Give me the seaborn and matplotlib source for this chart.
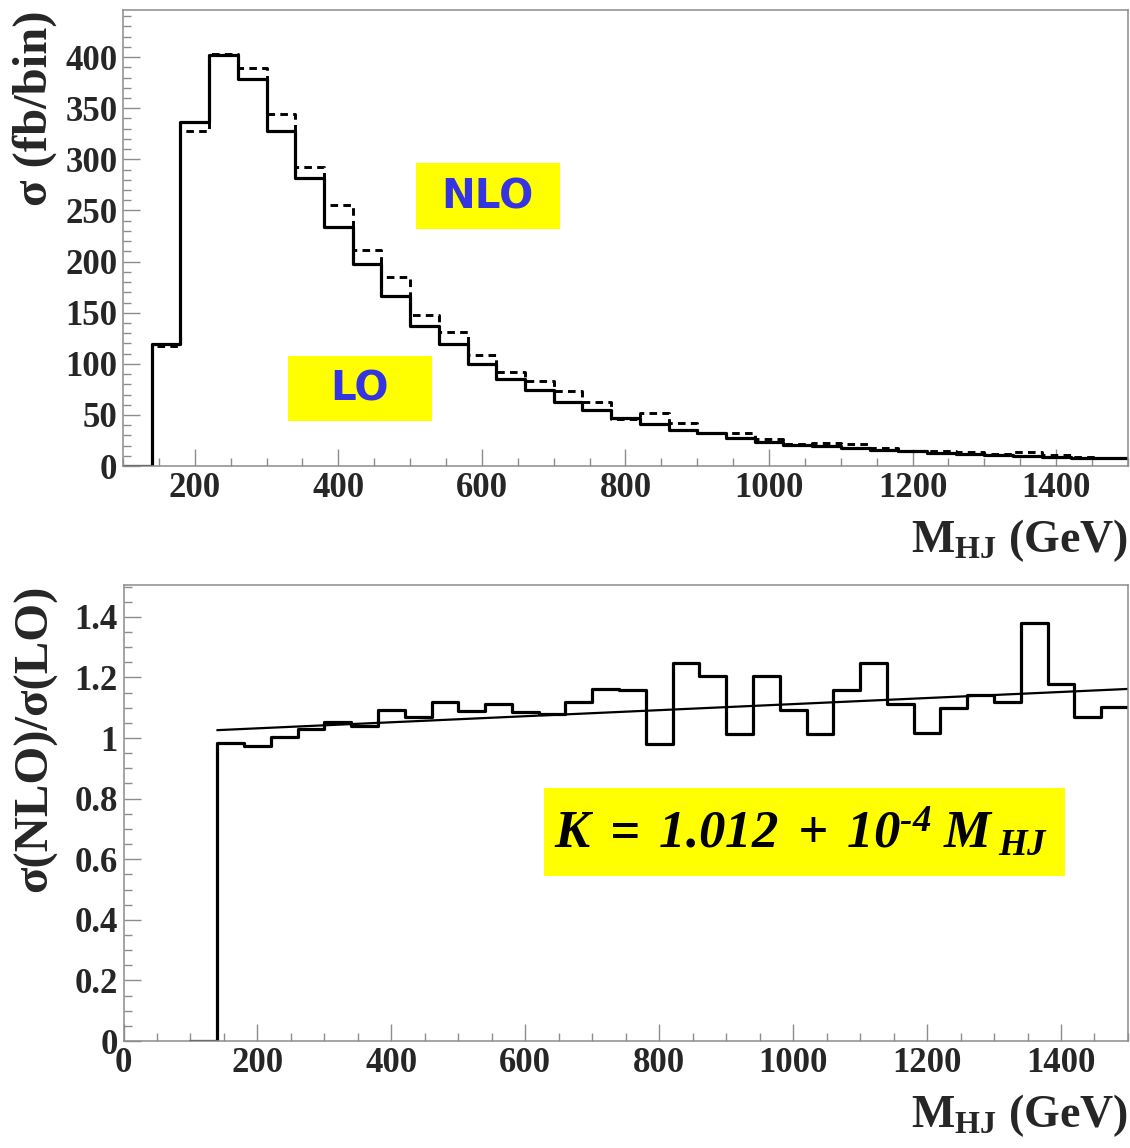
import numpy as np
import pandas as pd
import matplotlib
matplotlib.use("Agg")
import matplotlib.pyplot as plt
import seaborn as sns
from matplotlib.patches import Rectangle
from matplotlib.ticker import MultipleLocator, FuncFormatter

# ---------------- data ----------------
# bin edges in M_HJ (GeV): an empty bin 100-140, then 40 GeV bins 140..1500
bin_edges = [100.0] + [float(v) for v in range(140, 1501, 40)]

lo_xsec = [0, 119, 337, 402, 379, 328, 282, 234, 198, 166, 137, 119, 100, 85,
           74, 63, 55, 47, 41.5, 35, 32, 27, 24, 21, 19.5, 17.5, 16, 14.5, 13,
           12, 11, 10, 9, 8, 7.5]
nlo_xsec = [0, 117, 328, 403, 389, 344, 293, 255, 211, 185, 148, 131, 109, 92,
            83, 73, 63, 46, 52, 42, 32.5, 32.5, 26.3, 21.3, 22.6, 21.9, 17.8,
            14.7, 14.3, 13.7, 12.3, 13.8, 10.6, 8.5, 8.3]
k_ratio = [0, 0.985, 0.975, 1.004, 1.029, 1.052, 1.040, 1.093, 1.071, 1.120,
           1.089, 1.111, 1.087, 1.079, 1.120, 1.161, 1.157, 0.979, 1.249, 1.204,
           1.013, 1.204, 1.094, 1.013, 1.160, 1.249, 1.112, 1.015, 1.098, 1.142,
           1.120, 1.381, 1.177, 1.068, 1.103]

# fit K = k0 + k1 * M_HJ over the filled range
fit_k0 = 1.012
fit_k1 = 1e-4
fit_range = [140, 1500]

top_yticks = [0, 50, 100, 150, 200, 250, 300, 350, 400]
bottom_yticks = [0, 0.2, 0.4, 0.6, 0.8, 1.0, 1.2, 1.4]

edges_arr = np.array(bin_edges)
centers = 0.5 * (edges_arr[:-1] + edges_arr[1:])
df = pd.DataFrame({"m": centers, "lo": lo_xsec, "nlo": nlo_xsec, "k": k_ratio})
fit_m = np.array(fit_range, dtype=float)
fit_df = pd.DataFrame({"m": fit_m, "k": fit_k0 + fit_k1 * fit_m})

# ---------------- style ----------------
sns.set_style("white")
plt.rcParams["font.family"] = ["Liberation Serif", "DejaVu Serif"]
plt.rcParams["font.weight"] = "bold"
plt.rcParams["mathtext.fontset"] = "custom"
plt.rcParams["mathtext.rm"] = "Liberation Serif:italic:bold"
plt.rcParams["mathtext.it"] = "Liberation Serif:italic:bold"
plt.rcParams["mathtext.bf"] = "Liberation Serif:bold"

SPINE = "#8c8c8c"

fig = plt.figure(figsize=(11.3, 11.48), dpi=100)
ax1 = fig.add_axes([0.1088, 0.5940, 0.8894, 0.3972])
ax2 = fig.add_axes([0.1093, 0.0932, 0.8889, 0.3972])

# ---------------- top panel ----------------
sns.histplot(data=df, x="m", weights="lo", bins=bin_edges, element="step",
             fill=False, color="black", linewidth=2.3, ax=ax1)
sns.histplot(data=df, x="m", weights="nlo", bins=bin_edges, element="step",
             fill=False, color="black", linewidth=2.1,
             linestyle=(0, (2.6, 1.8)), ax=ax1)
ax1.set_xlim(100, 1500)
ax1.set_ylim(0, 446)
ax1.set_yticks(top_yticks)
ax1.xaxis.set_major_locator(MultipleLocator(200))
ax1.xaxis.set_minor_locator(MultipleLocator(50))
ax1.yaxis.set_minor_locator(MultipleLocator(10))

ax1.add_patch(Rectangle((0.2915, 0.5197), 0.1433, 0.1448, transform=ax1.transAxes,
                        facecolor="#ffff00", edgecolor="none", zorder=3))
ax1.text(0.363, 0.590, "NLO", transform=ax1.transAxes, ha="center", va="center",
         fontsize=29, fontweight="bold", color="#3434e0",
         family=["DejaVu Sans"], zorder=4)
ax1.add_patch(Rectangle((0.1642, 0.0987), 0.1433, 0.1425, transform=ax1.transAxes,
                        facecolor="#ffff00", edgecolor="none", zorder=3))
ax1.text(0.235, 0.168, "LO", transform=ax1.transAxes, ha="center", va="center",
         fontsize=29, fontweight="bold", color="#3434e0",
         family=["DejaVu Sans"], zorder=4)

# ---------------- bottom panel ----------------
sns.histplot(data=df, x="m", weights="k", bins=bin_edges, element="step",
             fill=False, color="black", linewidth=2.3, ax=ax2)
sns.lineplot(data=fit_df, x="m", y="k", color="black", linewidth=1.6, ax=ax2)
ax2.set_xlim(0, 1500)
ax2.set_ylim(0, 1.505)
ax2.set_yticks(bottom_yticks)
ax2.xaxis.set_major_locator(MultipleLocator(200))
ax2.xaxis.set_minor_locator(MultipleLocator(50))
ax2.yaxis.set_minor_locator(MultipleLocator(0.05))
ax2.yaxis.set_major_formatter(FuncFormatter(lambda v, p: f"{v:g}"))

ax2.add_patch(Rectangle((0.4186, 0.3618), 0.5187, 0.1930, transform=ax2.transAxes,
                        facecolor="#ffff00", edgecolor="none", zorder=3))
ax2.text(0.675, 0.458, r"$K\;=\;1.012\;+\;10^{\text{-}4}\;M_{\;HJ}$",
         transform=ax2.transAxes, ha="center", va="center", fontsize=38,
         color="black", zorder=4)

# ---------------- common axis styling ----------------
for ax in (ax1, ax2):
    for s in ax.spines.values():
        s.set_visible(True)
        s.set_color(SPINE)
        s.set_linewidth(1.1)
    ax.tick_params(axis="both", which="major", direction="in", length=12,
                   width=1.0, color=SPINE, labelsize=25, pad=4,
                   bottom=True, left=True, top=False, right=False)
    ax.tick_params(axis="both", which="minor", direction="in", length=6,
                   width=1.0, color=SPINE, bottom=True, left=True,
                   top=False, right=False)
    for lab in ax.get_xticklabels() + ax.get_yticklabels():
        lab.set_fontweight("bold")
    ax.set_xlabel(r"$\mathbf{M}_{\mathbf{HJ}}$ (GeV)", fontsize=33,
                  fontweight="bold", loc="right")
    ax.xaxis.set_label_coords(1.0, -0.112)

ax1.set_ylabel("σ (fb/bin)", fontsize=35, fontweight="bold", loc="top")
ax1.yaxis.set_label_coords(-0.066, 1.0)
ax2.set_ylabel("σ(NLO)/σ(LO)", fontsize=35, fontweight="bold", loc="top")
ax2.yaxis.set_label_coords(-0.066, 1.0)

fig.savefig("out.png", dpi=100)
